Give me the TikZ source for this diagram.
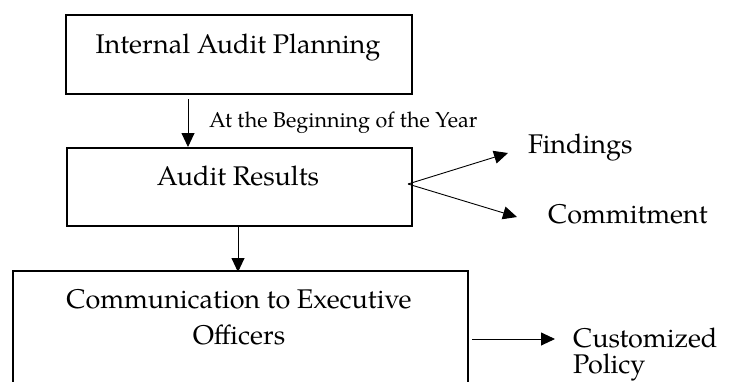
\documentclass[tikz,border=0pt]{standalone}
\usepackage{fontspec}
\setmainfont{TeX Gyre Pagella}
\usetikzlibrary{arrows.meta}
\begin{document}
\begin{tikzpicture}[x=1pt,y=-1pt,
  box/.style={draw, line width=1.7pt, inner sep=0pt, anchor=north west},
  maintext/.style={inner sep=0pt, anchor=base, font=\fontsize{27}{31}\selectfont},
  sidetext/.style={inner sep=0pt, anchor=base west, font=\fontsize{27}{31}\selectfont},
  smalltext/.style={inner sep=0pt, anchor=base west, font=\fontsize{21.5}{25}\selectfont},
  link/.style={line width=0.9pt, -{Triangle[length=14pt,width=13pt]}}]
\clip (0,0) rectangle (731,381);
\fill[white] (0,0) rectangle (731,381);

% process boxes
\node[box, minimum width=346pt, minimum height=79pt] (plan) at (65,14) {};
\node[box, minimum width=345pt, minimum height=78pt] (results) at (66,147) {};
\node[box, minimum width=455pt, minimum height=140pt] (comm) at (12,270) {};

% box captions
\node[maintext] (plantext) at (238,53) {Internal Audit Planning};
\node[maintext] (resultstext) at (238,185) {Audit Results};
\node[maintext] (commtext1) at (239,308) {Communication to Executive};
\node[maintext] (commtext2) at (239,344) {Officers};

% outcome labels
\node[smalltext] (when) at (209,127) {At the Beginning of the Year};
\node[sidetext] (findings) at (528,153) {Findings};
\node[sidetext] (commit) at (548,223) {Commitment};
\node[sidetext] (custom1) at (573,347) {Customized};
\node[sidetext] (custom2) at (573,373) {Policy};

% connector anchor points
\coordinate (a1) at (188,99);
\coordinate (a2) at (238,227);
\coordinate (fork) at (408,184);
\coordinate (findtip) at (508,153);
\coordinate (committip) at (517,217);
\coordinate (polstart) at (472,339);
\coordinate (poltip) at (555,339);

% connectors
\draw[link] (a1) -- (results.north -| a1);
\draw[link] (a2) -- ([yshift=-2pt]comm.north -| a2);
\draw[link] (fork) -- (findtip);
\draw[link] (fork) -- (committip);
\draw[link] (polstart) -- (poltip);
\end{tikzpicture}
\end{document}
